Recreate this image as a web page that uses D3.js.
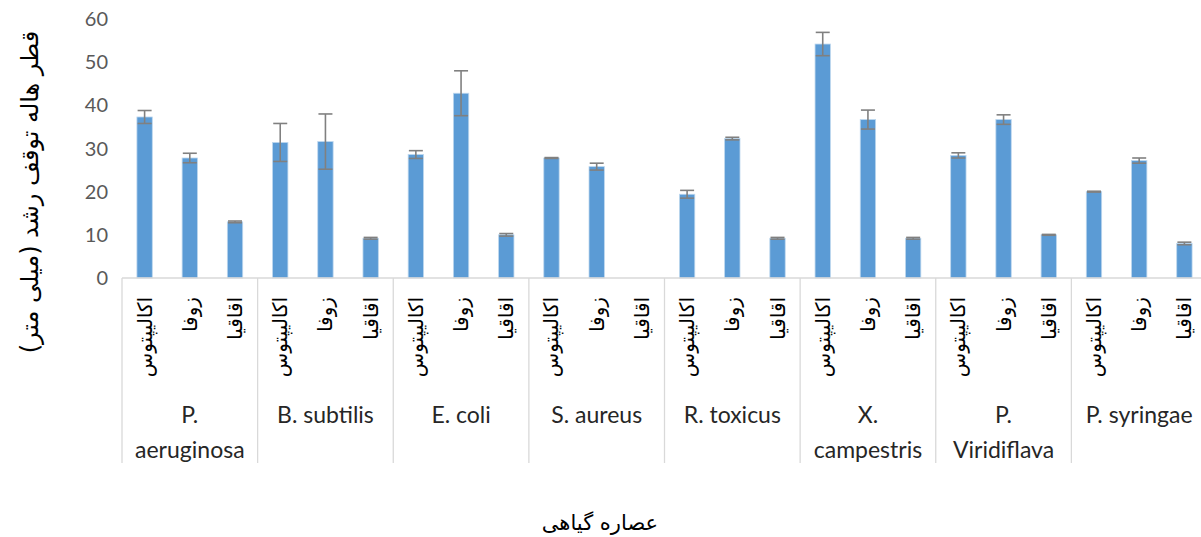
<!DOCTYPE html>
<html>
<head>
<meta charset="utf-8">
<script src="https://cdn.jsdelivr.net/npm/d3@7"></script>
<style>
  body { margin: 0; padding: 0; background: #fff; }
  svg { display: block; }
</style>
</head>
<body>
<div id="main"></div>
<script>
// bacteria groups, plant extracts, inhibition zone (mm) and error
const groups = ['P. aeruginosa', 'B. subtilis', 'E. coli', 'S. aureus', 'R. toxicus', 'X. campestris', 'P. Viridiflava', 'P. syringae'];
const groupLines = [['P.', 'aeruginosa'], ['B. subtilis'], ['E. coli'], ['S. aureus'], ['R. toxicus'], ['X.', 'campestris'], ['P.', 'Viridiflava'], ['P. syringae']];
const extracts = ['اکالیپتوس', 'زوفا', 'اقاقیا'];
const eucalyptus = [37.3, 31.4, 28.6, 27.8, 19.4, 54.2, 28.4, 20.0];
const hyssop = [27.8, 31.6, 42.8, 25.8, 32.3, 36.7, 36.7, 27.2];
const acacia = [13.0, 9.2, 10.0, 0, 9.2, 9.2, 10.0, 8.0];
const eucalyptusErr = [1.5, 4.4, 0.9, 0.1, 0.9, 2.7, 0.6, 0.1];
const hyssopErr = [1.1, 6.4, 5.2, 0.8, 0.3, 2.2, 1.1, 0.6];
const acaciaErr = [0.2, 0.2, 0.3, 0, 0.2, 0.2, 0.1, 0.3];
const yTicks = [0, 10, 20, 30, 40, 50, 60];
const yTitle = 'قطر هاله توقف رشد (میلی متر)';
const xTitle = 'عصاره گیاهی';

const WIDTH = 1201, HEIGHT = 537;
const series = [eucalyptus, hyssop, acacia];
const seriesErr = [eucalyptusErr, hyssopErr, acaciaErr];
const rows = [];
groups.forEach((g, gi) => {
    extracts.forEach((e, ei) => {
        rows.push({ group: g, extract: e, value: series[ei][gi], err: seriesErr[ei][gi] });
    });
});

const svg = d3.select('#main').append('svg').attr('width', WIDTH).attr('height', HEIGHT);

const x0 = d3.scaleBand().domain(groups).range([122, 1207]).padding(0);
const x1 = d3.scaleBand().domain(extracts).range([0, x0.bandwidth()]).paddingInner(0.66).paddingOuter(0.33);
const y = d3.scaleLinear().domain([0, 60]).range([278, 19]);

// y tick labels
svg.append('g').selectAll('text').data(yTicks).enter().append('text')
    .attr('x', 108)
    .attr('y', (d) => y(d))
    .attr('dy', '0.35em')
    .attr('text-anchor', 'end')
    .attr('font-family', 'Lato, "Open Sans", sans-serif')
    .attr('font-size', 20)
    .attr('fill', '#595959')
    .text((d) => d);

// bars
const bars = svg.append('g').selectAll('rect').data(rows.filter((d) => d.value > 0)).enter().append('rect')
    .attr('x', (d) => x0(d.group) + x1(d.extract))
    .attr('y', (d) => y(d.value))
    .attr('width', x1.bandwidth())
    .attr('height', (d) => y(0) - y(d.value))
    .attr('fill', '#5b9bd5')
    .attr('stroke', '#bdd7ee')
    .attr('stroke-width', 0.8);

// error bars
const errs = svg.append('g').attr('stroke', '#808080').attr('stroke-width', 1.6)
    .selectAll('g').data(rows.filter((d) => d.value > 0)).enter().append('g');
const cx = (d) => x0(d.group) + x1(d.extract) + x1.bandwidth() / 2;
errs.append('line')
    .attr('x1', cx).attr('x2', cx)
    .attr('y1', (d) => y(d.value + d.err)).attr('y2', (d) => y(d.value - d.err));
errs.append('line')
    .attr('x1', (d) => cx(d) - 7).attr('x2', (d) => cx(d) + 7)
    .attr('y1', (d) => y(d.value + d.err)).attr('y2', (d) => y(d.value + d.err));
errs.append('line')
    .attr('x1', (d) => cx(d) - 7).attr('x2', (d) => cx(d) + 7)
    .attr('y1', (d) => y(d.value - d.err)).attr('y2', (d) => y(d.value - d.err));

// category axis
const axis = svg.append('g').attr('stroke', '#d9d9d9').attr('stroke-width', 1.3);
axis.append('line').attr('x1', x0.range()[0]).attr('x2', x0.range()[1]).attr('y1', y(0)).attr('y2', y(0));
axis.selectAll('line.div').data(groups.map((g) => x0(g)).concat([x0.range()[1]])).enter().append('line').attr('class', 'div')
    .attr('x1', (d) => d).attr('x2', (d) => d)
    .attr('y1', y(0)).attr('y2', 463);

// rotated extract labels
svg.append('g').selectAll('text').data(rows).enter().append('text')
    .attr('transform', (d) => `translate(${cx(d) + 7},297) rotate(-90)`)
    .attr('text-anchor', 'end')
    .attr('font-family', '"DejaVu Sans", sans-serif')
    .attr('font-size', 20)
    .attr('fill', '#000')
    .text((d) => d.extract);

// group labels
const gl = svg.append('g').selectAll('text').data(groups).enter().append('text')
    .attr('x', (d) => x0(d) + x0.bandwidth() / 2)
    .attr('y', 423)
    .attr('text-anchor', 'middle')
    .attr('font-family', 'Lato, "Open Sans", sans-serif')
    .attr('font-size', 23)
    .attr('fill', '#262626');
gl.selectAll('tspan').data((d, i) => groupLines[i]).enter().append('tspan')
    .attr('x', function () { return d3.select(this.parentNode).attr('x'); })
    .attr('dy', (d, i) => i === 0 ? 0 : 35)
    .text((d) => d);

// axis titles
svg.append('text')
    .attr('transform', 'translate(38,192) rotate(-90)')
    .attr('text-anchor', 'middle')
    .attr('font-family', '"DejaVu Sans", sans-serif')
    .attr('font-size', 24)
    .attr('fill', '#000')
    .text(yTitle);
svg.append('text')
    .attr('x', 600)
    .attr('y', 530)
    .attr('text-anchor', 'middle')
    .attr('font-family', '"DejaVu Sans", sans-serif')
    .attr('font-size', 21)
    .attr('fill', '#000')
    .text(xTitle);
</script>
</body>
</html>
